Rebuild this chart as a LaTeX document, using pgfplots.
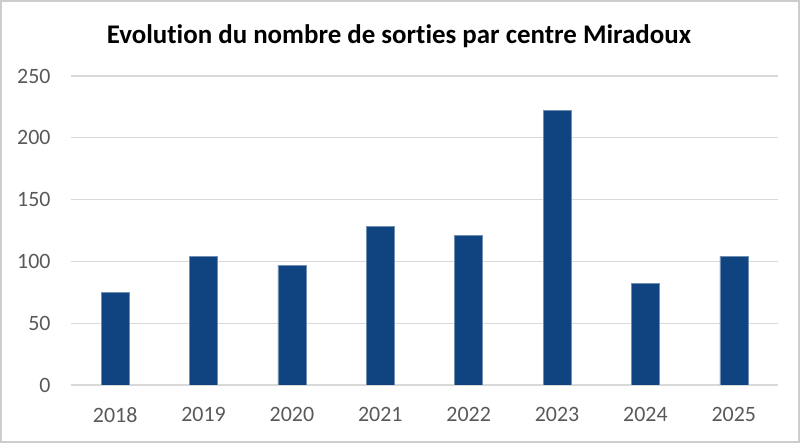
\documentclass[border=0pt]{standalone}
\usepackage{pgfplots}
\pgfplotsset{compat=1.18}
\usepackage{fontspec}
\setmainfont{Carlito}[Ligatures=NoCommon]
\definecolor{barblue}{RGB}{16,68,128}
\definecolor{ticklab}{RGB}{89,89,89}
\definecolor{gridgray}{RGB}{217,217,217}
\definecolor{framegray}{RGB}{205,205,205}

\begin{document}
\begin{tikzpicture}[x=1bp,y=1bp]
  \useasboundingbox (-71,-58) rectangle (729,385);
  \draw[framegray, line width=2bp] (-70,-57) rectangle (728,384);
  \begin{axis}[
    at={(0,0)}, anchor=south west,
    scale only axis,
    width=707bp, height=309bp,
    xmin=-0.5, xmax=7.5,
    ymin=0, ymax=250,
    ytick={0,50,...,250},
    xtick={0,...,7},
    xticklabels={2018,2019,2020,2021,2022,2023,2024,2025},
    axis line style={draw=none},
    major tick length=0pt,
    ymajorgrids,
    major grid style={gridgray, line width=1.2bp},
    /pgf/number format/assume math mode=true,
    tick label style={font=\fontsize{22}{26}\selectfont, text=ticklab},
    yticklabel style={xshift=-17bp},
    xticklabel style={yshift=-19bp},
  ]
    \addplot[ybar, bar width=28bp, fill=barblue, draw=barblue!60!white, line width=0.6bp]
      coordinates {(0,75) (1,104) (2,97) (3,128) (4,121) (5,222) (6,82) (7,104)};
  \end{axis}
  \node[font=\fontsize{27}{32}\selectfont\bfseries] at (328,349) {Evolution du nombre de sorties par centre Miradoux};
\end{tikzpicture}
\end{document}
